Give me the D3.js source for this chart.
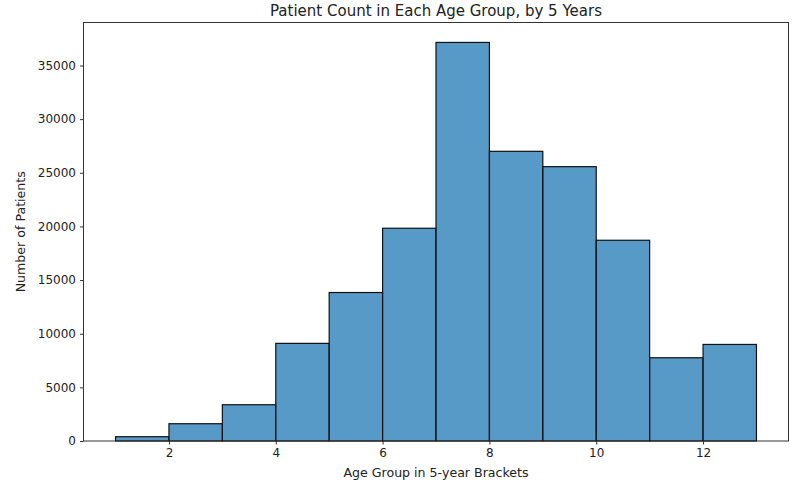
<!DOCTYPE html>
<html><head><meta charset="utf-8">
<script src="https://cdn.jsdelivr.net/npm/d3@7"></script>
<style>body{margin:0;background:#fff}svg{display:block}text{font-family:"DejaVu Sans",sans-serif;fill:#222}</style>
</head><body>
<svg id="c" width="801" height="486"></svg>
<script>
const binStarts = [1,2,3,4,5,6,7,8,9,10,11,12];
const binWidth = 1;
const counts = [400,1610,3380,9100,13840,19830,37150,27000,25570,18710,7760,9000];
const xTicks = [2,4,6,8,10,12];
const yTicks = [0,5000,10000,15000,20000,25000,30000,35000];
const title = "Patient Count in Each Age Group, by 5 Years";
const xLabel = "Age Group in 5-year Brackets";
const yLabel = "Number of Patients";

const svg = d3.select("#c");
const L=83.5, R=788.5, T=22.5, B=441;
const x = d3.scaleLinear().domain([0.4,13.6]).range([L,R]);
const y = d3.scaleLinear().domain([0, d3.max(counts)*1.05]).range([B,T]);

svg.append("g").selectAll("rect").data(binStarts).join("rect")
  .attr("x", d=>x(d)).attr("width", d=>x(d+binWidth)-x(d))
  .attr("y", (d,i)=>y(counts[i])).attr("height",(d,i)=>B-y(counts[i]))
  .attr("fill","rgba(31,119,180,0.75)").attr("stroke","#111").attr("stroke-width",1.2);

const xa = svg.append("g").attr("transform",`translate(0,${B})`)
  .call(d3.axisBottom(x).tickValues(xTicks).tickSize(3.5).tickPadding(4).tickFormat(d3.format("d")));
const ya = svg.append("g").attr("transform",`translate(${L},0)`)
  .call(d3.axisLeft(y).tickValues(yTicks).tickSize(3.5).tickPadding(4).tickFormat(d3.format("d")));
[xa,ya].forEach(a=>{a.selectAll("text").attr("font-size",12).style("fill","#222").attr("font-family","DejaVu Sans");
  a.selectAll("line").attr("stroke","#333");a.select(".domain").remove();});

svg.append("rect").attr("x",L).attr("y",T).attr("width",R-L).attr("height",B-T)
  .attr("fill","none").attr("stroke","#333").attr("stroke-width",1);

svg.append("text").attr("x",(L+R)/2).attr("y",16).attr("text-anchor","middle").attr("font-size",15).text(title);
svg.append("text").attr("x",(L+R)/2).attr("y",477).attr("text-anchor","middle").attr("font-size",12.6).text(xLabel);
svg.append("text").attr("transform",`translate(25,${(T+B)/2}) rotate(-90)`).attr("text-anchor","middle").attr("font-size",12.6).text(yLabel);
</script>
</body></html>
